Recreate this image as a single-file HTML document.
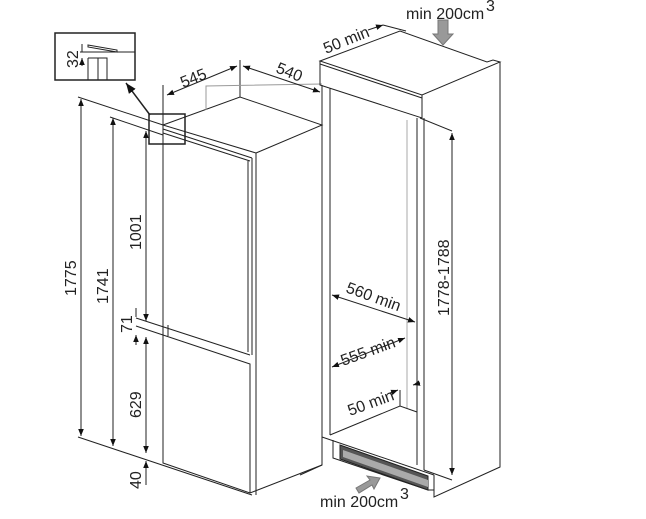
<!DOCTYPE html>
<html><head><meta charset="utf-8"><style>
html,body{margin:0;padding:0;background:#fff;}
svg{display:block}
text{font-family:"Liberation Sans",sans-serif;font-size:16px;fill:#222}
</style></head><body>
<svg width="646" height="519" viewBox="0 0 646 519" xmlns="http://www.w3.org/2000/svg">
<defs>
<marker id="a" viewBox="0 0 10 10" refX="10" refY="5" markerWidth="7" markerHeight="7" orient="auto-start-reverse"><path d="M0,1 L10,5 L0,9 z" fill="#111"/></marker>
</defs>
<g stroke="#222" stroke-width="1" fill="none">
<rect x="55" y="33" width="80" height="47" stroke-width="1.5"/>
<path d="M88,45 L117,50 L117,52 L88,47 Z"/>
<path d="M80,52 L135,52"/>
<path d="M88,58 L107,58 L107,80 M88,58 L88,80 M98,58 L98,80"/>
<path d="M82,44 L82,52 M82,66 L82,58" marker-end="url(#a)"/>
<path d="M150,115 L126,83" stroke-width="1.5" marker-end="url(#a)"/>
<rect x="149" y="114" width="36" height="30" stroke-width="1.5"/>
<path d="M163,125 L240,97 L322,125 L256,153"/>
<path d="M163,125 L256,153 M163,129 L252,158 M163,133 L250,161"/>
<path d="M163,125 L163,463 L250,493 L322,465 L322,125"/>
<path d="M252,158 L252,355 M256,153 L256,495 M248,161 L248,352"/>
<path d="M136,318 L250,355 M136,326 L250,364 L250,493 M168,336 L168,325"/>
<path d="M240,60 L240,97"/>
<path d="M206,110 L206,86 L322,84" stroke="#999"/>
<path d="M163,85 L163,125"/>
<path d="M167,95 L237,66" marker-start="url(#a)" marker-end="url(#a)"/>
<path d="M243,66 L320,92" marker-start="url(#a)" marker-end="url(#a)"/>
<path d="M78,97 L163,125 M110,117 L163,135 M78,437 L252,495"/>
<path d="M81,99 L81,436" marker-start="url(#a)" marker-end="url(#a)"/>
<path d="M113,118 L113,446" marker-start="url(#a)" marker-end="url(#a)"/>
<path d="M146,131 L146,321" marker-start="url(#a)" marker-end="url(#a)"/>
<path d="M136,308 L136,317 M136,345 L136,335" marker-end="url(#a)"/>
<path d="M146,337 L146,453" marker-start="url(#a)" marker-end="url(#a)"/>
<path d="M146,461 L146,485" marker-start="url(#a)"/>
<path d="M320,61 L400,31 L487,62 L493,60 L500,62 L422,95 Z"/>
<path d="M320,61 L320,85 L422,118 L422,95 M320,64 L422,98"/>
<path d="M322,85 L322,437 M330,88 L330,435"/>
<path d="M417,118 L417,465 M424,118 L424,470"/>
<path d="M407,120 L407,408" stroke="#aaa"/>
<path d="M500,62 L500,467 L434,497 L434,475"/>
<path d="M322,437 L322,465 M322,437 L434,475 M330,435 L400,406 L417,412"/>
<path d="M322,465 L300,475"/>
<path d="M333,440 L333,458 L428,490 L434,490"/>
<path d="M400,406 L400,390"/>
<path d="M340,445 L428,476 L428,490 L340,459 Z" fill="#555"/>
<path d="M343,450 L428,480 L428,487 L343,457 Z" fill="#aaa" stroke="none"/>
<path d="M420,118 L452,131"/>
<path d="M452,133 L452,475" marker-start="url(#a)" marker-end="url(#a)"/>
<path d="M424,470 L452,480"/>
<path d="M383,25 L406,31 M368,30 L383,25" marker-end="url(#a)"/>
<path d="M332,295 L415,322" marker-start="url(#a)" marker-end="url(#a)"/>
<path d="M332,367 L405,338" marker-start="url(#a)" marker-end="url(#a)"/>
<path d="M390,393 L398,390" marker-end="url(#a)"/>
<path d="M420,383 L413,385" marker-end="url(#a)"/>
</g>
<path d="M438,20 L448,20 L448,34 L453,34 L443,45 L433,34 L438,34 Z" fill="#999" stroke="#777"/>
<path d="M356,488 L370,480 L367,476 L380,478 L374,489 L372,485 L359,493 Z" fill="#999" stroke="#777"/>
<text font-size="14" transform="translate(78,68) rotate(-90)">32</text>
<text transform="translate(183,88) rotate(-22)">545</text>
<text transform="translate(275,72) rotate(22)">540</text>
<text transform="translate(76,296) rotate(-90)">1775</text>
<text transform="translate(108,304) rotate(-90)">1741</text>
<text transform="translate(141,250) rotate(-90)">1001</text>
<text transform="translate(132,333) rotate(-90)">71</text>
<text transform="translate(141,418) rotate(-90)">629</text>
<text transform="translate(141,489) rotate(-90)">40</text>
<text x="406" y="19" font-size="15">min 200cm</text><text x="486" y="11" font-size="8">3</text>
<text transform="translate(326,54) rotate(-22)">50 min</text>
<text transform="translate(449,316) rotate(-90)">1778-1788</text>
<text transform="translate(345,292) rotate(20)">560 min</text>
<text transform="translate(343,366) rotate(-20)">555 min</text>
<text transform="translate(350,416) rotate(-20)">50 min</text>
<text x="320" y="507" font-size="15">min 200cm</text><text x="400" y="499" font-size="8">3</text>
</svg>
</body></html>
